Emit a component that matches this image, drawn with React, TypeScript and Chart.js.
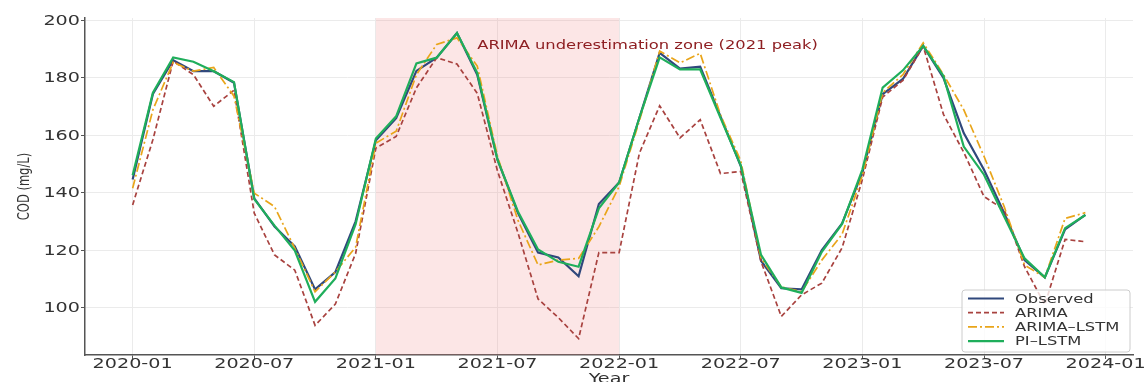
import React, { useEffect, useRef } from "react";
import { Chart, registerables } from "chart.js";

Chart.register(...registerables);

// Monthly COD series, 2020-01 .. 2023-12 (x = months since 2020-01)
const observed = [
  144.5, 174.3, 186.0, 182.2, 182.2, 178.2, 138.0, 128.2, 121.3, 106.3, 112.3, 130.0,
  158.2, 165.9, 182.3, 186.9, 195.5, 181.0, 151.4, 133.0, 119.1, 117.4, 110.9, 136.0,
  143.5, 166.0, 188.6, 183.1, 183.8, 166.5, 149.2, 116.3, 106.7, 106.3, 120.0, 129.3,
  147.0, 174.2, 179.5, 191.0, 179.9, 160.7, 147.9, 132.8, 116.5, 110.5, 127.2, 132.2,
];
const arima = [
  135.7, 158.4, 185.7, 181.0, 170.0, 175.6, 132.8, 118.3, 113.0, 93.8, 101.2, 118.8,
  155.5, 159.5, 176.4, 186.9, 184.7, 174.5, 147.5, 126.2, 103.0, 96.5, 89.2, 119.1,
  119.1, 153.7, 170.2, 159.0, 165.3, 146.6, 147.3, 116.0, 96.9, 104.4, 108.5, 120.8,
  144.5, 173.2, 179.0, 190.9, 167.2, 154.0, 138.6, 134.0, 114.2, 101.0, 123.7, 122.9,
];
const arimaLstm = [
  141.5, 168.8, 185.3, 182.2, 183.5, 173.5, 139.8, 135.1, 120.6, 105.5, 112.4, 121.0,
  157.2, 161.3, 181.0, 191.5, 193.8, 184.0, 152.6, 130.5, 114.8, 116.5, 117.1, 128.1,
  142.1, 165.0, 189.2, 185.1, 188.4, 167.0, 151.0, 117.1, 107.2, 105.5, 116.5, 125.5,
  146.0, 174.7, 181.0, 192.1, 181.0, 168.8, 152.6, 135.0, 114.8, 110.5, 131.0, 133.0,
];
const piLstm = [
  146.0, 174.7, 187.0, 185.5, 182.2, 178.4, 137.7, 128.5, 119.8, 102.0, 110.1, 129.0,
  158.8, 166.5, 184.9, 186.9, 195.5, 181.6, 151.4, 133.5, 120.2, 115.9, 114.2, 134.5,
  143.5, 166.0, 187.0, 182.8, 182.8, 166.0, 149.5, 118.3, 107.0, 105.1, 119.4, 129.1,
  148.0, 176.5, 182.5, 191.0, 180.5, 156.0, 146.2, 131.6, 117.1, 110.5, 127.6, 132.2,
];

const xTickMonths = [0, 6, 12, 18, 24, 30, 36, 42, 48];
const xTickLabels = ["2020-01", "2020-07", "2021-01", "2021-07", "2022-01", "2022-07", "2023-01", "2023-07", "2024-01"];
const yTickValues = [100, 120, 140, 160, 180, 200];

// Highlighted span (2021-01 .. 2022-01) and its note
const spanStart = 12;
const spanEnd = 24;
const noteText = "ARIMA underestimation zone (2021 peak)";
const noteX = 17;
const noteY = 190;

const FONT = '"DejaVu Sans", sans-serif';
const SX = 1.42;

const series = [
  { label: "Observed", data: observed, color: "#30487c", width: 2.2, dash: [] as number[] },
  { label: "ARIMA", data: arima, color: "#a8423f", width: 1.7, dash: [5, 3] },
  { label: "ARIMA\u2013LSTM", data: arimaLstm, color: "#e9a51a", width: 1.7, dash: [9, 3, 2, 3] },
  { label: "PI\u2013LSTM", data: piLstm, color: "#1fae5b", width: 2.2, dash: [] as number[] },
];

function stretchedText(ctx: CanvasRenderingContext2D, text: string, x: number, y: number, align: CanvasTextAlign) {
  ctx.save();
  ctx.translate(x, y);
  ctx.scale(SX, 1);
  ctx.textAlign = align;
  ctx.textBaseline = "alphabetic";
  ctx.fillText(text, 0, 0);
  ctx.restore();
}

const decorations = {
  id: "decorations",
  beforeDatasetsDraw(chart: any) {
    const { ctx, chartArea, scales } = chart;
    const x0 = scales.x.getPixelForValue(spanStart);
    const x1 = scales.x.getPixelForValue(spanEnd);
    ctx.save();
    ctx.fillStyle = "rgba(240,128,128,0.2)";
    ctx.fillRect(x0, chartArea.top, x1 - x0, chartArea.bottom - chartArea.top);
    ctx.restore();
  },
  afterDatasetsDraw(chart: any) {
    const { ctx, scales } = chart;
    ctx.save();
    ctx.fillStyle = "#8e1f22";
    ctx.font = `11.5px ${FONT}`;
    stretchedText(ctx, noteText, scales.x.getPixelForValue(noteX), scales.y.getPixelForValue(noteY), "left");
    ctx.restore();
  },
  afterDraw(chart: any) {
    const { ctx, chartArea, scales } = chart;
    ctx.save();
    ctx.fillStyle = "#333";
    ctx.font = `13.5px ${FONT}`;
    xTickMonths.forEach((m, i) => {
      stretchedText(ctx, xTickLabels[i], scales.x.getPixelForValue(m), chartArea.bottom + 13, "center");
    });
    yTickValues.forEach((v) => {
      stretchedText(ctx, String(v), chartArea.left - 5, scales.y.getPixelForValue(v) + 4.9, "right");
    });
    // axis titles
    stretchedText(ctx, "Year", (chartArea.left + chartArea.right) / 2, 382.5, "center");
    ctx.save();
    ctx.font = `11.5px ${FONT}`;
    ctx.translate(25, (chartArea.top + chartArea.bottom) / 2);
    ctx.scale(SX, 1);
    ctx.rotate(-Math.PI / 2);
    ctx.textAlign = "center";
    ctx.textBaseline = "middle";
    ctx.fillText("COD (mg/L)", 0, 0);
    ctx.restore();

    // legend box
    const bw = 168;
    const bh = 62;
    const bx = chartArea.right - 3 - bw;
    const by = chartArea.bottom - 3 - bh;
    ctx.beginPath();
    ctx.roundRect(bx, by, bw, bh, 3);
    ctx.fillStyle = "rgba(255,255,255,0.8)";
    ctx.fill();
    ctx.strokeStyle = "#cccccc";
    ctx.lineWidth = 1;
    ctx.stroke();
    ctx.font = `11.5px ${FONT}`;
    series.forEach((s, i) => {
      const cy = by + 8.5 + i * 14.2;
      ctx.save();
      ctx.strokeStyle = s.color;
      ctx.lineWidth = s.width;
      ctx.setLineDash(s.dash);
      ctx.beginPath();
      ctx.moveTo(bx + 6, cy);
      ctx.lineTo(bx + 42, cy);
      ctx.stroke();
      ctx.restore();
      ctx.fillStyle = "#333";
      stretchedText(ctx, s.label, bx + 53, cy + 4.3, "left");
    });
    ctx.restore();
  },
};

export default function App() {
  const canvasRef = useRef<HTMLCanvasElement | null>(null);

  useEffect(() => {
    document.body.style.margin = "0";
    const canvas = canvasRef.current;
    if (!canvas) return;
    const datasets = series.map((s, i) => ({
      label: s.label,
      data: s.data.map((v, m) => ({ x: m, y: v })),
      borderColor: s.color,
      backgroundColor: s.color,
      borderWidth: s.width,
      borderDash: s.dash,
      pointRadius: 0,
      tension: 0,
      fill: false,
      order: series.length - i,
    }));
    const axisCommon = {
      type: "linear" as const,
      ticks: { display: false },
      grid: { color: "#ebebeb", lineWidth: 1, tickColor: "#555", tickLength: 4 },
      border: { display: true, color: "#555", width: 1.5 },
    };
    const chart = new Chart(canvas, {
      type: "line",
      data: { datasets },
      options: {
        responsive: false,
        devicePixelRatio: 1,
        animation: false,
        layout: { padding: { top: 18, right: 13, left: 0, bottom: 0 } },
        plugins: { legend: { display: false }, tooltip: { enabled: false } },
        scales: {
          x: {
            ...axisCommon,
            min: -2.35,
            max: 49.35,
            afterBuildTicks: (s: any) => {
              s.ticks = xTickMonths.map((v) => ({ value: v }));
            },
            afterFit: (s: any) => {
              s.height = 27;
            },
          },
          y: {
            ...axisCommon,
            min: 83.5,
            max: 200.7,
            afterBuildTicks: (s: any) => {
              s.ticks = yTickValues.map((v) => ({ value: v }));
            },
            afterFit: (s: any) => {
              s.width = 85;
            },
          },
        },
      } as any,
      plugins: [decorations],
    });
    return () => chart.destroy();
  }, []);

  return <canvas ref={canvasRef} width={1146} height={382} style={{ display: "block" }} />;
}
